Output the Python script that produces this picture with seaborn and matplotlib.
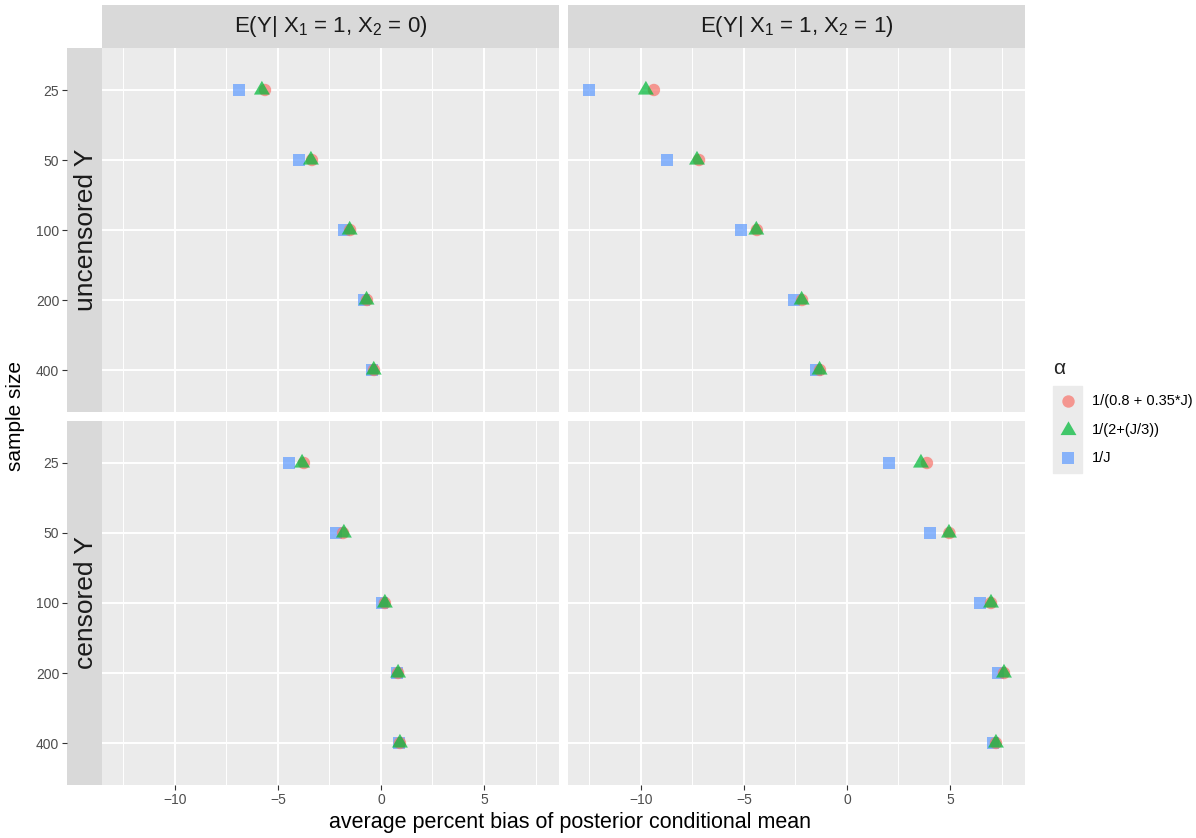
import matplotlib
matplotlib.use('Agg')
import matplotlib.pyplot as plt
import numpy as np
import pandas as pd
import seaborn as sns

################################################################################
# data

sample_sizes = ['25', '50', '100', '200', '400']
alpha_labels = ['1/(0.8 + 0.35*J)', '1/(2+(J/3))', '1/J']
row_labels = ['uncensored Y', 'censored Y']
col_labels = [r'E(Y| X$_1$ = 1, X$_2$ = 0)', r'E(Y| X$_1$ = 1, X$_2$ = 1)']

# uncensored Y, X2 = 0
unc_x20_circle = [-5.63, -3.35, -1.50, -0.68, -0.34]
unc_x20_triangle = [-5.78, -3.40, -1.52, -0.70, -0.35]
unc_x20_square = [-6.89, -3.98, -1.80, -0.83, -0.44]

# uncensored Y, X2 = 1
unc_x21_circle = [-9.37, -7.18, -4.37, -2.18, -1.31]
unc_x21_triangle = [-9.76, -7.28, -4.40, -2.20, -1.33]
unc_x21_square = [-12.52, -8.74, -5.15, -2.57, -1.50]

# censored Y, X2 = 0
cen_x20_circle = [-3.74, -1.84, 0.19, 0.83, 0.92]
cen_x20_triangle = [-3.83, -1.80, 0.19, 0.83, 0.92]
cen_x20_square = [-4.47, -2.18, 0.05, 0.78, 0.87]

# censored Y, X2 = 1
cen_x21_circle = [3.88, 4.97, 6.99, 7.62, 7.23]
cen_x21_triangle = [3.59, 4.95, 6.99, 7.62, 7.23]
cen_x21_square = [2.04, 4.03, 6.46, 7.33, 7.09]

################################################################################

panels = {
    (0, 0): [unc_x20_circle, unc_x20_triangle, unc_x20_square],
    (0, 1): [unc_x21_circle, unc_x21_triangle, unc_x21_square],
    (1, 0): [cen_x20_circle, cen_x20_triangle, cen_x20_square],
    (1, 1): [cen_x21_circle, cen_x21_triangle, cen_x21_square],
}

records = []
for (r, c), series in panels.items():
    for a, vals in zip(alpha_labels, series):
        for n, v in zip(sample_sizes, vals):
            records.append({'row': r, 'col': c, 'alpha': a, 'n': n, 'bias': v})
df = pd.DataFrame(records)
df['pos'] = pd.Categorical(df['n'], categories = sample_sizes).codes

colors = {alpha_labels[0]: '#F8766D', alpha_labels[1]: '#00BA38', alpha_labels[2]: '#619CFF'}
tri = [(-1.0, -0.577), (1.0, -0.577), (0.0, 1.155)]
markers = {alpha_labels[0]: 'o', alpha_labels[1]: tri, alpha_labels[2]: 's'}
msizes = {alpha_labels[0]: 80, alpha_labels[1]: 175, alpha_labels[2]: 72}
draw_order = [alpha_labels[2], alpha_labels[0], alpha_labels[1]]

sns.set_style('darkgrid', {'axes.facecolor': '#EBEBEB', 'grid.color': 'white'})
plt.rcParams['font.family'] = ['Liberation Sans', 'DejaVu Sans']
plt.rcParams['mathtext.fontset'] = 'custom'
plt.rcParams['mathtext.rm'] = 'Liberation Sans'
plt.rcParams['mathtext.it'] = 'Liberation Sans:italic'

W, H = 1196, 838
fig = plt.figure(figsize = (W / 100, H / 100), dpi = 100)

def rect(x0, y0, x1, y1):
    return [x0 / W, 1 - y1 / H, (x1 - x0) / W, (y1 - y0) / H]

cols = [(102, 559), (568, 1025)]
rows = [(48, 412), (421, 785)]
xlim = (-13.54, 8.64)
ylim = (4.6, -0.6)

for i, (y0, y1) in enumerate(rows):
    strip = fig.add_axes(rect(67, y0, 102, y1))
    strip.set_facecolor('#D9D9D9')
    strip.grid(False)
    for s in strip.spines.values():
        s.set_visible(False)
    strip.set_xticks([])
    strip.set_ylim(ylim)
    strip.set_yticks(range(len(sample_sizes)))
    strip.set_yticklabels(sample_sizes, color = '#4D4D4D', fontsize = 10)
    strip.tick_params(axis = 'y', length = 3.5, width = 0.8, color = '#333333', pad = 2, left = True)
    strip.text(0.55, 0.5, row_labels[i], transform = strip.transAxes, rotation = 90,
               ha = 'center', va = 'center', fontsize = 19, color = '#1A1A1A')

    for j, (x0, x1) in enumerate(cols):
        ax = fig.add_axes(rect(x0, y0, x1, y1))
        sub = df[(df.row == i) & (df.col == j)]
        for a in draw_order:
            d = sub[sub.alpha == a]
            sns.scatterplot(data = d, x = 'bias', y = 'pos', ax = ax, color = colors[a],
                            marker = markers[a], s = msizes[a], alpha = 0.72,
                            linewidth = 0, edgecolor = 'none', legend = False, zorder = 3)
        ax.set_xlim(xlim)
        ax.set_ylim(ylim)
        ax.set_xticks([-10, -5, 0, 5])
        ax.set_xticks([-12.5, -7.5, -2.5, 2.5, 7.5], minor = True)
        ax.set_yticks(range(len(sample_sizes)))
        ax.grid(which = 'major', color = 'white', linewidth = 1.4)
        ax.grid(which = 'minor', axis = 'x', color = 'white', linewidth = 0.7)
        ax.set_axisbelow(True)
        for s in ax.spines.values():
            s.set_visible(False)
        ax.set_xlabel('')
        ax.set_ylabel('')
        ax.tick_params(axis = 'y', left = False, labelleft = False)
        if i == 1:
            ax.tick_params(axis = 'x', which = 'major', bottom = True, length = 3.5, width = 0.8,
                           color = '#333333', labelcolor = '#4D4D4D', labelsize = 10, pad = 2)
            ax.tick_params(axis = 'x', which = 'minor', bottom = False)
        else:
            ax.tick_params(axis = 'x', which = 'both', bottom = False, labelbottom = False)

        if i == 0:
            cs = fig.add_axes(rect(x0, 5, x1, 48))
            cs.set_facecolor('#D9D9D9')
            cs.grid(False)
            cs.set_xticks([])
            cs.set_yticks([])
            for s in cs.spines.values():
                s.set_visible(False)
            cs.text(0.5, 0.5, col_labels[j], transform = cs.transAxes, ha = 'center',
                    va = 'center', fontsize = 16, color = '#1A1A1A')

fig.text(570 / W, 1 - 822 / H, 'average percent bias of posterior conditional mean',
         ha = 'center', va = 'center', fontsize = 15.5, color = 'black')
fig.text(16 / W, 1 - 416 / H, 'sample size', rotation = 90, ha = 'center',
         va = 'center', fontsize = 15, color = 'black')

# legend
leg = fig.add_axes(rect(1045, 350, 1196, 480))
leg.set_xlim(1045, 1196)
leg.set_ylim(480, 350)
leg.axis('off')
leg.add_patch(plt.Rectangle((1053, 386), 29, 87, color = '#EBEBEB', zorder = 1))
leg.text(1059, 368, '\u03b1', ha = 'center', va = 'center', fontsize = 15)
for k, (a, yk) in enumerate(zip(alpha_labels, [401, 430, 458])):
    leg.scatter([1067.5], [yk], color = colors[a], marker = markers[a], s = msizes[a],
                alpha = 0.72, linewidth = 0, zorder = 3)
    leg.text(1092, yk, a, ha = 'left', va = 'center', fontsize = 10.5, color = 'black')

fig.savefig('out.png', dpi = 100)
